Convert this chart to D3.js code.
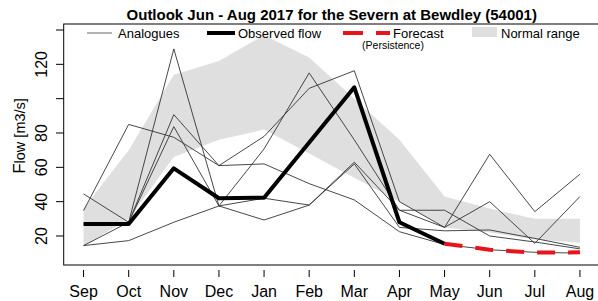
<!DOCTYPE html>
<html>
<head>
<meta charset="utf-8">
<script src="https://d3js.org/d3.v7.min.js"></script>
<style>
  body { margin: 0; background: #fff; }
  svg { display: block; font-family: "Liberation Sans", Arial, sans-serif; }
</style>
</head>
<body>
<svg id="chart" width="598" height="301"></svg>
<script>
// months from Sep 2016 to Aug 2017
const months = ['Sep', 'Oct', 'Nov', 'Dec', 'Jan', 'Feb', 'Mar', 'Apr', 'May', 'Jun', 'Jul', 'Aug'];

// normal range band (m3/s)
const normalLow  = [14, 30, 66, 76, 82, 68, 54, 40, 25, 22, 18, 16];
const normalHigh = [36, 70, 114, 122, 137, 124, 100, 76, 43, 36, 30, 30];

// analogue years
const analogue1 = [44.5, 28, 90.7, 61, 62, 50.5, 41, 22.5, 15, 12, 10.5, 10];
const analogue2 = [34.8, 85, 77.5, 61, 78, 106, 116.3, 40, 25, 67.6, 34.2, 56];
const analogue3 = [27, 28, 129, 37.5, 70.7, 115, 76, 35, 35, 20, 16.5, 12.5];
const analogue4 = [14.4, 28, 83.7, 37.5, 42, 38, 63, 35, 25, 40, 15.7, 43];
const analogue5 = [14.4, 17.3, 28, 37.5, 29.3, 38, 62, 25, 23, 23.5, 18.6, 13.4];

// observed flow Sep - May, forecast (persistence) May - Aug
const observed = [27, 27, 59.4, 42, 42.3, 74.5, 106.6, 28, 15.5];
const forecast = [15.5, 12, 10.3, 10.5];
const forecastStart = 8;

const yTicks = [20, 40, 60, 80, 100, 120, 140];
const yLabels = [20, 40, 60, 80, 120];

const svg = d3.select('#chart');

const x = d3.scaleLinear().domain([-0.44, 11.44]).range([63.7, 599.8]);
const y = d3.scaleLinear().domain([3.1, 143.5]).range([265, 24]);

// grey normal range
const band = d3.area()
  .x((d, i) => x(i))
  .y0((d, i) => y(normalLow[i]))
  .y1(d => y(d));

svg.append('path')
  .datum(normalHigh)
  .attr('d', band)
  .attr('fill', '#dfdfdf');

const line = d3.line().x(d => x(d.i)).y(d => y(d.v));
const toPts = (arr, off = 0) => arr.map((v, i) => ({ i: i + off, v }));

svg.selectAll('.analogue')
  .data([analogue1, analogue2, analogue3, analogue4, analogue5])
  .join('path')
  .attr('class', 'analogue')
  .attr('d', d => line(toPts(d)))
  .attr('fill', 'none')
  .attr('stroke', '#333')
  .attr('stroke-width', 0.9);

svg.append('path')
  .attr('d', line(toPts(observed)))
  .attr('fill', 'none')
  .attr('stroke', '#000')
  .attr('stroke-width', 4)
  .attr('stroke-linejoin', 'round');

svg.append('path')
  .attr('d', line(toPts(forecast, forecastStart)))
  .attr('fill', 'none')
  .attr('stroke', '#e8141b')
  .attr('stroke-width', 4)
  .attr('stroke-dasharray', '18,13');

// plot box
svg.append('rect')
  .attr('x', x.range()[0]).attr('y', y.range()[1])
  .attr('width', x.range()[1] - x.range()[0])
  .attr('height', y.range()[0] - y.range()[1])
  .attr('fill', 'none')
  .attr('stroke', '#000')
  .attr('stroke-width', 1);

// x axis: ticks sit a little below the box
const xa = svg.append('g');
xa.selectAll('line')
  .data(months)
  .join('line')
  .attr('x1', (d, i) => x(i)).attr('x2', (d, i) => x(i))
  .attr('y1', 270).attr('y2', 277)
  .attr('stroke', '#000');
xa.selectAll('text')
  .data(months)
  .join('text')
  .attr('x', (d, i) => x(i))
  .attr('y', 297)
  .attr('text-anchor', 'middle')
  .attr('font-size', 16)
  .text(d => d);

// y axis
const ya = svg.append('g');
ya.selectAll('line')
  .data(yTicks)
  .join('line')
  .attr('x1', 56).attr('x2', x.range()[0])
  .attr('y1', d => y(d)).attr('y2', d => y(d))
  .attr('stroke', '#000');
ya.selectAll('text')
  .data(yLabels)
  .join('text')
  .attr('transform', d => `translate(47,${y(d)}) rotate(-90)`)
  .attr('text-anchor', 'middle')
  .attr('font-size', 16)
  .text(d => d);

const yt = svg.append('text')
  .attr('transform', 'translate(25,136) rotate(-90)')
  .attr('text-anchor', 'middle')
  .attr('font-size', 14.5);
yt.append('tspan').attr('font-size', 17).text('F');
yt.append('tspan').text('low [m3/s]');

// title
svg.append('text')
  .attr('x', (x.range()[0] + x.range()[1]) / 2)
  .attr('y', 20)
  .attr('text-anchor', 'middle')
  .attr('font-size', 15)
  .attr('font-weight', 'bold')
  .text('Outlook Jun - Aug 2017 for the Severn at Bewdley (54001)');

// legend
const lg = svg.append('g').attr('font-size', 13);
lg.append('line').attr('x1', 87).attr('x2', 112).attr('y1', 33).attr('y2', 33)
  .attr('stroke', '#555').attr('stroke-width', 0.9);
lg.append('text').attr('x', 118).attr('y', 37.5).text('Analogues');

lg.append('line').attr('x1', 207).attr('x2', 235).attr('y1', 33).attr('y2', 33)
  .attr('stroke', '#000').attr('stroke-width', 4);
lg.append('text').attr('x', 238).attr('y', 37.5).text('Observed flow');

lg.append('line').attr('x1', 343).attr('x2', 390).attr('y1', 33).attr('y2', 33)
  .attr('stroke', '#e8141b').attr('stroke-width', 4).attr('stroke-dasharray', '20,13');
lg.append('text').attr('x', 393).attr('y', 37.5).text('Forecast');
lg.append('text').attr('x', 393).attr('y', 49).attr('text-anchor', 'middle')
  .attr('font-size', 10.5).text('(Persistence)');

lg.append('rect').attr('x', 472).attr('y', 27).attr('width', 25).attr('height', 10)
  .attr('fill', '#dfdfdf');
lg.append('text').attr('x', 501).attr('y', 37.5).text('Normal range');
</script>
</body>
</html>
